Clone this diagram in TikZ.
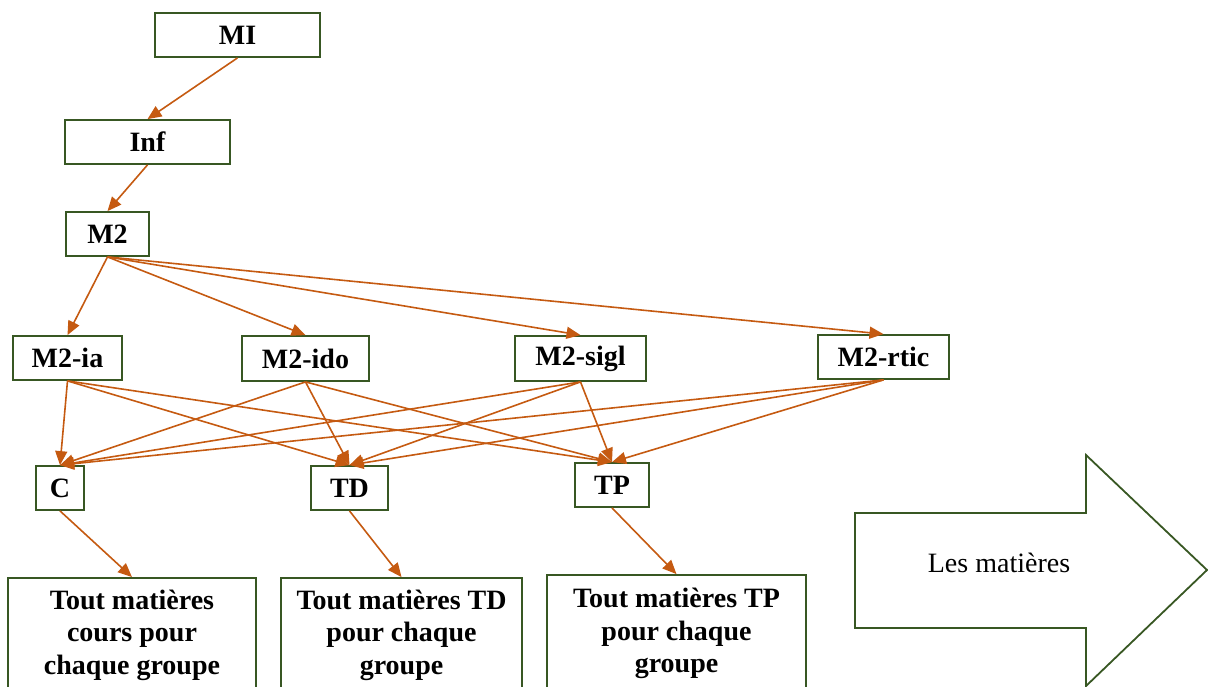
\documentclass[tikz,border=0pt]{standalone}
\usepackage{fontspec}
\setmainfont{Liberation Serif}
\usetikzlibrary{arrows.meta}

\definecolor{boxgreen}{RGB}{56,87,35}
\definecolor{linkorange}{RGB}{197,90,17}

\tikzset{
	box/.style={draw=boxgreen, line width=0.9pt, inner sep=0pt, font=\bfseries\fontsize{14}{16.25}\selectfont},
	leaf/.style={box, align=center},
	link/.style={draw=linkorange, line width=0.8pt, -{Triangle[length=7pt,width=6pt]}}
}

\begin{document}
\begin{tikzpicture}[x=0.5pt, y=-0.5pt]

	\useasboundingbox (0,0) rectangle (1208,686);
	\clip (0,0) rectangle (1208,686);

	% upper levels
	\node[box, minimum width=82.5pt, minimum height=22pt] (mi) at (237.5,35) {MI};
	\node[box, minimum width=82.5pt, minimum height=22pt] (inf) at (147.5,142) {Inf};
	\node[box, minimum width=41.5pt, minimum height=22pt] (m2) at (107.5,234) {M2};

	% specialities
	\node[box, minimum width=54.5pt, minimum height=22pt] (ia) at (67.5,358) {M2-ia};
	\node[box, minimum width=63.5pt, minimum height=22.5pt] (ido) at (305.5,358.5) {M2-ido};
	\node[box, minimum width=65.5pt, minimum height=22.5pt] (sigl) at (580.5,358.5) {M2-sigl};
	\node[box, minimum width=65.5pt, minimum height=22pt] (rtic) at (883.5,357) {M2-rtic};

	% kinds of sessions
	\node[box, minimum width=24pt, minimum height=22pt] (c) at (60,488) {C};
	\node[box, minimum width=38.5pt, minimum height=22pt] (td) at (349.5,488) {TD};
	\node[box, minimum width=37pt, minimum height=22pt] (tp) at (612,485) {TP};

	% all subjects
	\node[leaf, minimum width=124pt, minimum height=57pt] (cours) at (132,635) {Tout matières\\cours pour\\chaque groupe};
	\node[leaf, minimum width=120.5pt, minimum height=57pt] (tdall) at (401.5,635) {Tout matières TD\\pour chaque\\groupe};
	\node[leaf, minimum width=129.5pt, minimum height=58.5pt] (tpall) at (676.5,633.5) {Tout matières TP\\pour chaque\\groupe};

	\draw[link] (mi.south) -- (inf.north);
	\draw[link] (inf.south) -- (m2.north);

	\foreach \s in {ia, ido, sigl, rtic}
		\draw[link] (m2.south) -- (\s.north);
		; %end for \s

	\foreach \s in {ia, ido, sigl, rtic}
		\foreach \t in {c, td, tp}
			\draw[link] (\s.south) -- (\t.north);
			; %end for \t
		; %end for \s

	\draw[link] (c.south) -- (cours.north);
	\draw[link] (td.south) -- (tdall.north);
	\draw[link] (tp.south) -- (tpall.north);

	% big arrow
	\draw[boxgreen, line width=0.9pt] (855,513) -- (1086,513) -- (1086,455) -- (1207,570) -- (1086,686) -- (1086,628) -- (855,628) -- cycle;
	\node[font=\fontsize{14}{16}\selectfont] (matieres) at (999,563) {Les matières};

\end{tikzpicture}
\end{document}
